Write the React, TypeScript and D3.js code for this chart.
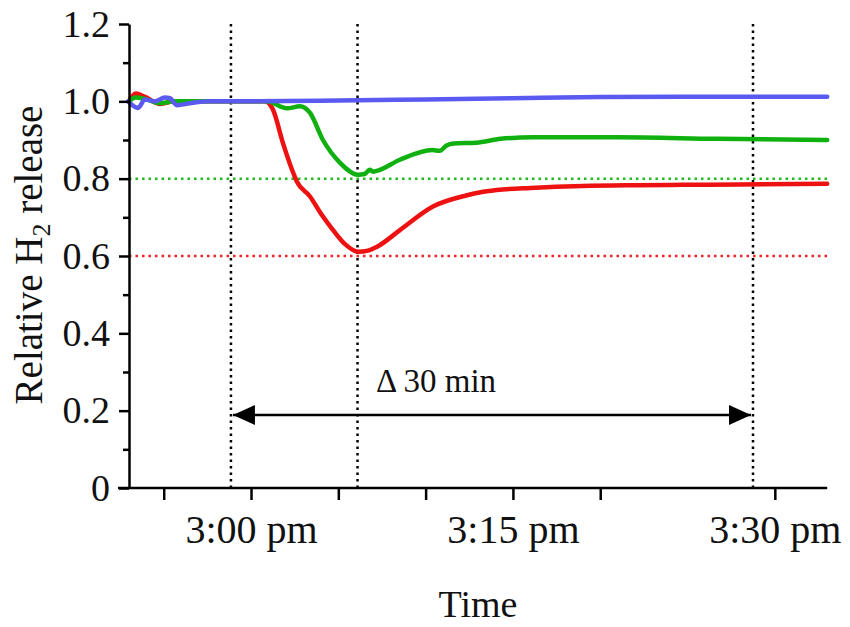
import { useEffect, useRef } from 'react';
import * as d3 from 'd3';

// minutes relative to 3:00 pm, relative H2 release
const redSeries: [number, number][] = [
  [-7.0, 1.0], [-6.6, 1.02], [-6.1, 1.012], [-5.2, 0.993], [-4.4, 1.0], [-2.0, 1.0],
  [0.0, 1.0], [0.8, 1.0], [1.26, 0.978], [1.83, 0.892], [2.35, 0.823], [2.63, 0.792],
  [3.38, 0.754], [4.0, 0.71], [4.7, 0.667], [5.4, 0.63], [6.13, 0.611], [6.7, 0.614],
  [7.22, 0.624], [8.53, 0.667], [10.42, 0.728], [12.37, 0.757], [13.3, 0.766],
  [14.4, 0.772], [16.0, 0.776], [19.0, 0.781], [22.0, 0.783], [24.7, 0.784],
  [28.0, 0.785], [33.0, 0.787],
];

const greenSeries: [number, number][] = [
  [-7.0, 1.0], [-6.6, 1.01], [-6.0, 1.005], [-5.2, 0.995], [-4.4, 1.0], [0.0, 1.0],
  [0.9, 1.0], [2.06, 0.982], [2.8, 0.987], [3.38, 0.97], [4.12, 0.9], [5.1, 0.841],
  [6.13, 0.81], [6.5, 0.812], [6.8, 0.823], [7.0, 0.818], [7.2, 0.82], [8.53, 0.849],
  [10.4, 0.874], [10.8, 0.872], [11.2, 0.886], [11.6, 0.891], [12.9, 0.893],
  [14.3, 0.903], [16.2, 0.907], [21.0, 0.907], [26.7, 0.903], [33.0, 0.9],
];

const blueSeries: [number, number][] = [
  [-7.04, 1.0], [-6.47, 0.983], [-6.07, 1.005], [-5.5, 1.0], [-4.93, 1.01],
  [-4.64, 1.008], [-4.24, 0.99], [-3.5, 0.995], [-2.35, 1.0], [0.0, 1.0],
  [5.0, 1.002], [10.0, 1.005], [15.0, 1.008], [20.0, 1.011], [25.0, 1.012], [33.0, 1.012],
];

const xTickMinutes = [-5, 0, 5, 10, 15, 20, 30];
const xLabelMinutes = [0, 15, 30];
const xLabelTexts = ['3:00 pm', '3:15 pm', '3:30 pm'];
const yMajorTicks = [0, 0.2, 0.4, 0.6, 0.8, 1.0, 1.2];
const yMinorTicks = [0.1, 0.3, 0.5, 0.7, 0.9, 1.1];
const markerMinutes = [-1.15, 6.1, 28.75];
const thresholds = [
  { value: 0.8, color: '#22bb22' },
  { value: 0.6, color: '#ee2222' },
];

const FONT = '"Liberation Serif", "Times New Roman", serif';

const App = () => {
  const svgRef = useRef<SVGSVGElement>(null);

  useEffect(() => {
    const svg = d3.select(svgRef.current);
    svg.selectAll('*').remove();

    const x = d3.scaleLinear().domain([-7, 33]).range([128.8, 827.2]);
    const y = d3.scaleLinear().domain([0, 1.2]).range([488, 24]);
    const axisX = 129;

    const defs = svg.append('defs');
    ['start', 'end'].forEach((id) => {
      defs
        .append('marker')
        .attr('id', `arrow-${id}`)
        .attr('viewBox', '0 0 22 20')
        .attr('refX', id === 'end' ? 22 : 0)
        .attr('refY', 10)
        .attr('markerWidth', 22)
        .attr('markerHeight', 20)
        .attr('markerUnits', 'userSpaceOnUse')
        .attr('orient', 'auto')
        .append('path')
        .attr('d', id === 'end' ? 'M0,0L22,10L0,20Z' : 'M22,0L0,10L22,20Z')
        .attr('fill', '#000');
    });

    // threshold dotted lines
    thresholds.forEach((t) => {
      svg
        .append('line')
        .attr('x1', axisX)
        .attr('x2', x(33))
        .attr('y1', y(t.value))
        .attr('y2', y(t.value))
        .attr('stroke', t.color)
        .attr('stroke-width', 2.5)
        .attr('stroke-dasharray', '2.5,4');
    });

    // vertical dotted markers
    markerMinutes.forEach((m) => {
      svg
        .append('line')
        .attr('x1', x(m))
        .attr('x2', x(m))
        .attr('y1', y(1.2))
        .attr('y2', y(0))
        .attr('stroke', '#000')
        .attr('stroke-width', 2.5)
        .attr('stroke-dasharray', '2.5,4');
    });

    const line = d3
      .line<[number, number]>()
      .x((d) => x(d[0]))
      .y((d) => y(d[1]))
      .curve(d3.curveMonotoneX);

    [
      { data: redSeries, color: '#ee1111' },
      { data: greenSeries, color: '#11b011' },
      { data: blueSeries, color: '#5a5af0' },
    ].forEach((s) => {
      svg
        .append('path')
        .attr('d', line(s.data))
        .attr('fill', 'none')
        .attr('stroke', s.color)
        .attr('stroke-width', 4.5)
        .attr('stroke-linejoin', 'round')
        .attr('stroke-linecap', 'round');
    });

    // Δ 30 min arrow
    const arrowY = 415;
    svg
      .append('line')
      .attr('x1', x(markerMinutes[0]) + 2)
      .attr('x2', x(markerMinutes[2]) - 2)
      .attr('y1', arrowY)
      .attr('y2', arrowY)
      .attr('stroke', '#000')
      .attr('stroke-width', 2.5)
      .attr('marker-start', 'url(#arrow-start)')
      .attr('marker-end', 'url(#arrow-end)');
    svg
      .append('text')
      .attr('x', 436)
      .attr('y', 392)
      .attr('text-anchor', 'middle')
      .attr('font-family', FONT)
      .attr('font-size', 33)
      .attr('fill', '#111')
      .text('Δ 30 min');

    // y axis
    const yAxis = svg
      .append('g')
      .attr('transform', `translate(${axisX},0)`)
      .call(
        d3
          .axisLeft(y)
          .tickValues(yMajorTicks)
          .tickSize(10)
          .tickSizeOuter(0)
          .tickPadding(9)
          .tickFormat((d) => (+d === 0 ? '0' : d3.format('.1f')(+d)))
      );
    svg
      .append('g')
      .attr('transform', `translate(${axisX},0)`)
      .call(d3.axisLeft(y).tickValues(yMinorTicks).tickSize(6).tickSizeOuter(0).tickFormat(() => ''))
      .call((g) => g.select('.domain').remove())
      .selectAll('line')
      .attr('stroke-width', 2.5);
    yAxis.select('.domain').attr('stroke-width', 2.5);
    yAxis.selectAll('line').attr('stroke-width', 2.5);
    yAxis.selectAll('text').attr('font-family', FONT).attr('font-size', 38).attr('fill', '#111');

    // x axis
    const xAxis = svg
      .append('g')
      .attr('transform', `translate(0,${y(0)})`)
      .call(
        d3
          .axisBottom(x)
          .tickValues(xTickMinutes)
          .tickSize(12)
          .tickSizeOuter(0)
          .tickPadding(15)
          .tickFormat((d) => {
            const i = xLabelMinutes.indexOf(+d);
            return i >= 0 ? xLabelTexts[i] : '';
          })
      );
    xAxis.select('.domain').attr('d', `M118,0H${x(33)}`).attr('stroke-width', 2.5);
    xAxis.selectAll('line').attr('stroke-width', 2.5);
    xAxis.selectAll('text').attr('font-family', FONT).attr('font-size', 40).attr('fill', '#111');

    // axis titles
    svg
      .append('text')
      .attr('x', 478)
      .attr('y', 617)
      .attr('text-anchor', 'middle')
      .attr('font-family', FONT)
      .attr('font-size', 38)
      .attr('fill', '#111')
      .text('Time');

    const yTitle = svg
      .append('text')
      .attr('transform', 'translate(42,255) rotate(-90)')
      .attr('text-anchor', 'middle')
      .attr('font-family', FONT)
      .attr('font-size', 39)
      .attr('fill', '#111');
    yTitle.append('tspan').text('Relative H');
    yTitle.append('tspan').attr('font-size', 26).attr('dy', 8).text('2');
    yTitle.append('tspan').attr('dy', -8).text(' release');
  }, []);

  return (
    <svg
      ref={svgRef}
      width={850}
      height={627}
      style={{ position: 'absolute', left: 0, top: 0, background: '#fff' }}
    />
  );
};

export default App;
